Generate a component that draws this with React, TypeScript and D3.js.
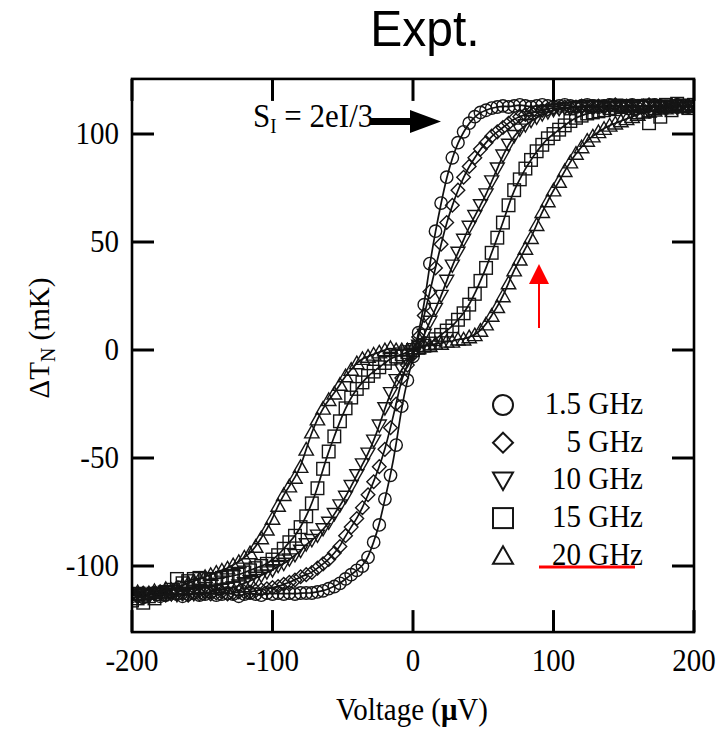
import React from "react";
import * as d3 from "d3";

// ---------- data ----------
const voltages = [
  -200, -196, -192, -188, -184, -180, -176, -172, -168, -164,
  -160, -156, -152, -148, -144, -140, -136, -132, -128, -124,
  -120, -116, -112, -108, -104, -100, -96, -92, -88, -84,
  -80, -76, -72, -68, -64, -60, -56, -52, -48, -44,
  -40, -36, -32, -28, -24, -20, -16, -12, -8, -4,
  0, 4, 8, 12, 16, 20, 24, 28, 32, 36,
  40, 44, 48, 52, 56, 60, 64, 68, 72, 76,
  80, 84, 88, 92, 96, 100, 104, 108, 112, 116,
  120, 124, 128, 132, 136, 140, 144, 148, 152, 156,
  160, 164, 168, 172, 176, 180, 184, 188, 192, 196,
  200,
];

const dT_1_5GHz = [
  -114, -113, -114.5, -113, -112.5, -114, -113.5, -112, -113, -114,
  -113, -112.5, -113.5, -113, -112, -113.5, -113, -112.5, -113, -114,
  -113, -112.5, -113, -113.5, -112.5, -113, -112.5, -113, -112.5, -113,
  -112.5, -112.5, -112.5, -112, -111.5, -110.5, -109.5, -108, -106, -104,
  -102, -100, -96, -89, -81, -69, -58, -44, -26, -14,
  -3, 8, 21, 40, 55, 68, 80, 89, 96, 101,
  105, 108, 110, 111, 112, 112.5, 113, 112.5, 113, 113.5,
  113, 112.5, 113, 113.5, 113, 112.5, 113, 113.5, 113, 112.5,
  113, 113.5, 113, 112.5, 113, 113.5, 113, 112.5, 113, 113.5,
  113, 112.5, 113, 113.5, 113, 112.5, 113, 113.5, 113, 112.5,
  113,
];

const dT_5GHz = [
  -113, -114, -112.5, -113.5, -113, -112, -113.5, -113, -112.5, -113,
  -113.5, -112.5, -113, -112, -113, -112.5, -112, -113, -112.5, -112,
  -112, -112, -111.5, -111, -110.5, -110, -109.5, -108.5, -107.5, -106.5,
  -105, -104, -103, -101, -99, -97, -94, -91, -86, -82,
  -78, -73, -67, -61, -54, -46, -36, -25, -13, -7,
  -2, 6, 16, 27, 38, 49, 59, 67, 74, 80,
  85, 89, 93, 96, 99, 101, 103, 105, 107, 108,
  109, 110, 110.5, 111, 111.5, 112, 112, 112.5, 112, 112.5,
  113, 112.5, 112, 113, 112.5, 113, 113.5, 112.5, 113, 112,
  112.5, 113, 113.5, 112.5, 113, 112, 113, 113.5, 112.5, 113,
  112.5,
];

const dT_10GHz = [
  -113.5, -112.5, -113, -114, -112.5, -113, -112, -113, -113.5, -112.5,
  -112.5, -113, -112, -112.5, -112, -111, -111, -110.5, -110, -109,
  -108, -107, -105.5, -104.5, -103, -102, -100, -99, -97, -95,
  -93, -90, -88, -86, -83, -80, -76, -72, -68, -63,
  -58, -53, -48, -42, -35, -27, -20, -14, -9, -5,
  -2, 2, 7, 13, 19, 25, 32, 39, 45, 51,
  57, 62, 67, 72, 78, 84, 90, 95, 99, 102,
  104, 106, 107.5, 109, 110, 111, 111.5, 112, 112, 112.5,
  112, 113, 112.5, 113, 112, 112.5, 113.5, 112.5, 113, 112,
  113, 112.5, 113.5, 112, 113, 112.5, 113, 112, 113.5, 112.5,
  113,
];

const dT_15GHz = [
  -116, -115, -117, -114, -115, -113, -112, -111, -106, -108,
  -107, -106, -105.5, -106, -106.5, -106, -105.5, -105, -104.5, -104,
  -103, -102, -101, -100, -99, -97, -95, -92, -89, -86,
  -82, -77, -71, -64, -55, -47, -40, -33, -27, -22,
  -18, -15, -12, -10, -8, -6, -4, -3, -2, -1,
  0, 1, 2, 3, 5, 7, 9, 11, 14, 17,
  21, 26, 32, 38, 45, 52, 59, 67, 74, 79,
  84, 88, 92, 95, 98, 100, 102, 104, 106, 107.5,
  108.5, 109.5, 110, 110.5, 111, 112, 111.5, 112.5, 113, 112,
  110, 113, 105, 112, 108, 113.5, 111, 114, 113, 112,
  113.5,
];

const dT_20GHz = [
  -113, -112, -114, -112.5, -111.5, -112, -110.5, -111, -110, -109,
  -108, -107, -106, -105, -104, -103, -102, -101, -99.5, -98,
  -96, -94, -91, -87, -83, -78, -72, -67, -63, -59,
  -54, -46, -38, -32, -27, -23, -20, -16, -12, -9,
  -6, -4, -3, -2, -1, 0, 1, 0, 0, 0,
  1, 1, 2, 2, 3, 3, 4, 4, 5, 5,
  6, 7, 9, 12, 16, 20, 25, 31, 37, 42,
  47, 52, 58, 64, 69, 74, 78, 83, 87, 91,
  94, 97, 99, 101, 102.5, 104, 105, 106, 107, 108,
  109, 110, 110.5, 111, 112, 112, 112.5, 113, 112.5, 113,
  113,
];

const seriesLabels = ["1.5 GHz", "5 GHz", "10 GHz", "15 GHz", "20 GHz"];
const seriesShapes = ["circle", "diamond", "triangleDown", "square", "triangleUp"];
const seriesValues = [dT_1_5GHz, dT_5GHz, dT_10GHz, dT_15GHz, dT_20GHz];

const xTicks = [-200, -100, 0, 100, 200];
const yTicks = [-100, -50, 0, 50, 100];
const yDomainTop = 125.5;
const yDomainBottom = -130.6;

// ---------- layout ----------
const W = 726;
const H = 730;
const x = d3.scaleLinear().domain([-200, 200]).range([132, 694]);
const y = d3.scaleLinear().domain([-100, 100]).range([566, 134]);
const SERIF = "'Liberation Serif', 'Times New Roman', serif";
const SANS = "'Liberation Sans', Arial, sans-serif";
const STRETCH = 1.12;

function Marker({ shape, cx, cy, s, sw }: { shape: string; cx: number; cy: number; s: number; sw: number }) {
  const common = { fill: "none", stroke: "#151515", strokeWidth: sw };
  if (shape === "circle") return <circle cx={cx} cy={cy} r={s} {...common} />;
  if (shape === "square")
    return <rect x={cx - s} y={cy - s} width={2 * s} height={2 * s} {...common} />;
  let d = "";
  if (shape === "diamond") d = `M${cx},${cy - s}L${cx + s},${cy}L${cx},${cy + s}L${cx - s},${cy}Z`;
  if (shape === "triangleDown")
    d = `M${cx - s},${cy - s * 0.8}L${cx + s},${cy - s * 0.8}L${cx},${cy + s * 0.95}Z`;
  if (shape === "triangleUp")
    d = `M${cx},${cy - s * 0.95}L${cx + s},${cy + s * 0.8}L${cx - s},${cy + s * 0.8}Z`;
  return <path d={d} {...common} />;
}

function SText({ x: tx, y: ty, anchor, size, family, children }: any) {
  return (
    <g transform={`translate(${tx},${ty}) scale(1,${STRETCH})`}>
      <text x={0} y={0} textAnchor={anchor} fontSize={size} fontFamily={family} fill="#000">
        {children}
      </text>
    </g>
  );
}

export default function App() {
  const left = x(-200);
  const right = x(200);
  const top = y(yDomainTop);
  const bottom = y(yDomainBottom);
  const tickLen = 22;

  const line = d3
    .line<number>()
    .x((_, i) => x(voltages[i]))
    .y((d) => y(d))
    .curve(d3.curveBasis);

  const markerSize = [6.2, 6.8, 7, 6.3, 7.2];
  const legendY0 = 405;
  const legendDy = 37.7;

  return (
    <svg
      width={W}
      height={H}
      viewBox={`0 0 ${W} ${H}`}
      style={{ position: "absolute", left: 0, top: 0, background: "#fff" }}
    >
      <defs>
        <clipPath id="plotclip">
          <rect x={left} y={top} width={right - left} height={bottom - top} />
        </clipPath>
      </defs>
      <rect x={0} y={0} width={W} height={H} fill="#fff" />

      {/* Title */}
      <g transform={`translate(425,46) scale(1,1.05)`}>
        <text textAnchor="middle" fontFamily={SANS} fontSize={48} fill="#000">
          Expt.
        </text>
      </g>

      {/* data */}
      <g clipPath="url(#plotclip)">
        {seriesValues.map((vals, si) => (
          <path key={"l" + si} d={line(vals) || ""} fill="none" stroke="#111" strokeWidth={1.7} />
        ))}
        {seriesValues.map((vals, si) =>
          vals.map((v, i) => (
            <Marker
              key={si + "-" + i}
              shape={seriesShapes[si]}
              cx={x(voltages[i])}
              cy={y(v)}
              s={markerSize[si]}
              sw={1.4}
            />
          ))
        )}
      </g>

      {/* frame */}
      <rect x={left} y={top} width={right - left} height={bottom - top} fill="none" stroke="#000" strokeWidth={2.6} />

      {/* ticks */}
      {xTicks.map((t) => (
        <g key={"xt" + t}>
          <line x1={x(t)} x2={x(t)} y1={bottom} y2={bottom - tickLen} stroke="#000" strokeWidth={3} />
          <line x1={x(t)} x2={x(t)} y1={top} y2={top + tickLen} stroke="#000" strokeWidth={3} />
          <SText x={x(t)} y={671} anchor="middle" size={29} family={SERIF}>
            {t}
          </SText>
        </g>
      ))}
      {yTicks.map((t) => (
        <g key={"yt" + t}>
          <line x1={left} x2={left + tickLen} y1={y(t)} y2={y(t)} stroke="#000" strokeWidth={3} />
          <line x1={right} x2={right - tickLen} y1={y(t)} y2={y(t)} stroke="#000" strokeWidth={3} />
          <SText x={119} y={y(t) + 10} anchor="end" size={29} family={SERIF}>
            {t}
          </SText>
        </g>
      ))}

      {/* axis labels */}
      <SText x={412} y={720} anchor="middle" size={29} family={SERIF}>
        Voltage (<tspan fontWeight="bold">μ</tspan>V)
      </SText>
      <g transform={`translate(49,338) rotate(-90)`}>
        <text textAnchor="middle" fontFamily={SERIF} fontSize={29} fill="#000">
          ΔT
          <tspan dy={6} fontSize={20}>N</tspan>
          <tspan dy={-6}> (mK)</tspan>
        </text>
      </g>

      {/* annotation */}
      <SText x={253} y={127} anchor="start" size={31} family={SERIF}>
        S<tspan dy={5} fontSize={19}>I</tspan>
        <tspan dy={-5}> = 2eI/3</tspan>
      </SText>
      <line x1={370} x2={414} y1={121.5} y2={121.5} stroke="#000" strokeWidth={7} />
      <path d="M410,110L441,121.5L410,133Z" fill="#000" />

      {/* legend */}
      {seriesLabels.map((lab, i) => (
        <g key={"lg" + i}>
          <Marker shape={seriesShapes[i]} cx={503} cy={legendY0 + i * legendDy} s={10} sw={2} />
          <SText x={643} y={legendY0 + i * legendDy + 9} anchor="end" size={29} family={SERIF}>
            {lab}
          </SText>
        </g>
      ))}

      {/* red highlights */}
      <line x1={539} x2={635} y1={567} y2={567} stroke="#f00" strokeWidth={3} />
      <line x1={539} x2={539} y1={328} y2={282} stroke="#f00" strokeWidth={2} />
      <path d="M529,284L539,264L549,284Z" fill="#f00" />
    </svg>
  );
}
